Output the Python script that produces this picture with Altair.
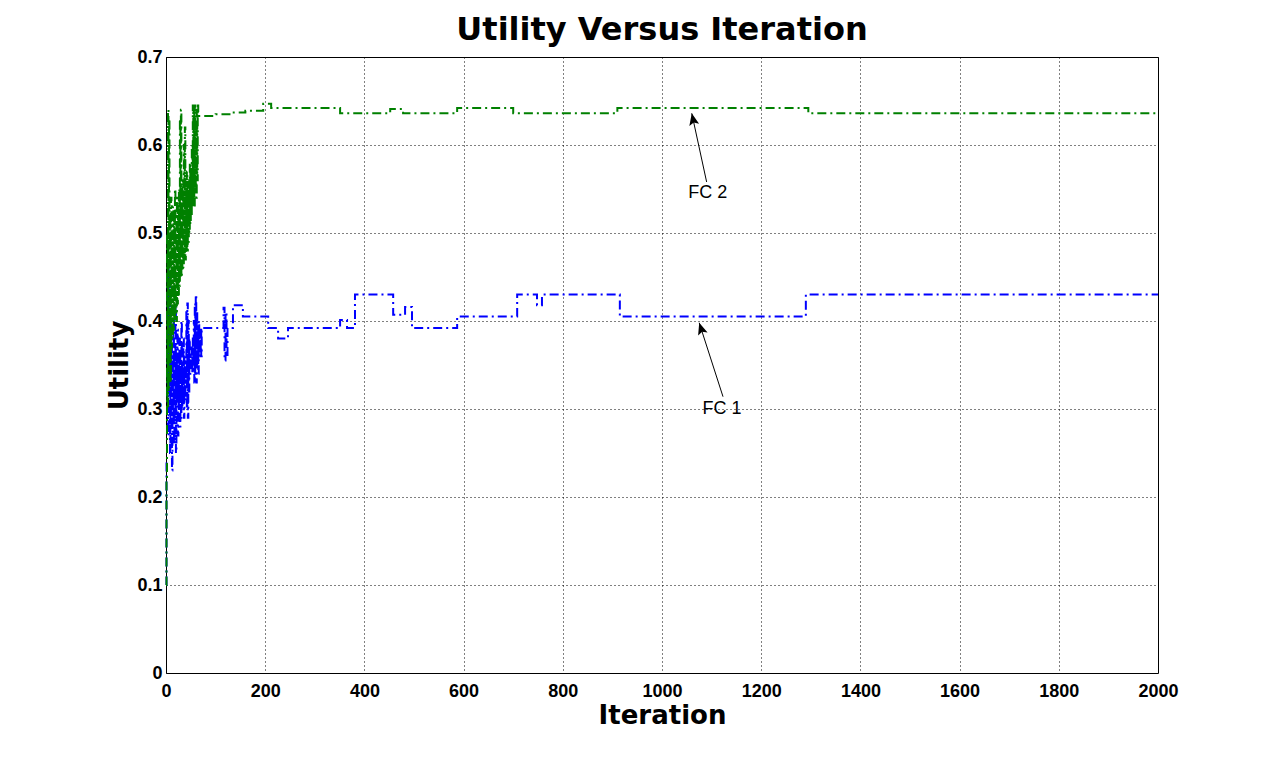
import altair as alt
import pandas as pd

# ---------------- data ----------------
# FC 1 (blue): per-iteration values for the noisy start (iterations 0..71)
fc1_early = [0.10, 0.24, 0.30, 0.45, 0.27, 0.46, 0.33, 0.44, 0.25, 0.40,
             0.28, 0.38, 0.23, 0.36, 0.29, 0.40, 0.26, 0.37, 0.30, 0.42,
             0.25, 0.36, 0.31, 0.39, 0.27, 0.35, 0.30, 0.38, 0.28, 0.36,
             0.29, 0.40, 0.30, 0.35, 0.31, 0.38, 0.29, 0.36, 0.31, 0.34,
             0.33, 0.41, 0.30, 0.42, 0.29, 0.40, 0.32, 0.38, 0.34, 0.36,
             0.35, 0.37, 0.36, 0.34, 0.38, 0.35, 0.40, 0.33, 0.42, 0.34,
             0.43, 0.33, 0.41, 0.35, 0.39, 0.34, 0.40, 0.36, 0.39, 0.37,
             0.39, 0.36]
# FC 1 later change points
fc1_step_it = [72, 114, 116, 118, 120, 122, 124, 135, 155, 206, 226, 246,
               351, 365, 381, 458, 482, 496, 587, 708, 748, 758, 915, 1290, 2000]
fc1_step_val = [0.392, 0.392, 0.415, 0.355, 0.410, 0.360, 0.392, 0.418, 0.405,
                0.392, 0.380, 0.392, 0.401, 0.392, 0.430, 0.407, 0.416, 0.392,
                0.405, 0.430, 0.418, 0.430, 0.405, 0.430, 0.430]

# FC 2 (green): per-iteration values for the noisy start (iterations 0..64)
fc2_early = [0.10, 0.22, 0.50, 0.30, 0.64, 0.32, 0.63, 0.34, 0.52, 0.33,
             0.54, 0.37, 0.50, 0.38, 0.53, 0.39, 0.52, 0.40, 0.55, 0.41,
             0.51, 0.40, 0.54, 0.42, 0.53, 0.43, 0.55, 0.44, 0.63, 0.45,
             0.64, 0.45, 0.55, 0.46, 0.56, 0.46, 0.60, 0.47, 0.62, 0.47,
             0.55, 0.48, 0.57, 0.48, 0.55, 0.49, 0.56, 0.50, 0.58, 0.51,
             0.57, 0.52, 0.60, 0.53, 0.645, 0.54, 0.64, 0.53, 0.645, 0.55,
             0.62, 0.54, 0.64, 0.56, 0.645]
fc2_step_it = [65, 100, 130, 160, 196, 212, 351, 452, 478, 587, 700, 910, 1295, 2000]
fc2_step_val = [0.633, 0.635, 0.637, 0.639, 0.647, 0.642, 0.636, 0.641, 0.636,
                0.642, 0.636, 0.642, 0.636, 0.636]

# annotations (data coordinates)
ann_label = ["FC 2", "FC 1"]
ann_tip_it = [1060, 1075]
ann_tip_val = [0.636, 0.398]
ann_tail_it = [1090, 1123]
ann_tail_val = [0.558, 0.314]
ann_text_it = [1092, 1121]
ann_text_val = [0.545, 0.300]
ann_angle = [348, 342]

x_ticks = list(range(0, 2001, 200))
y_ticks = [0, 0.1, 0.2, 0.3, 0.4, 0.5, 0.6, 0.7]

# ---------------- tables ----------------
fc1 = pd.DataFrame({
    "it": list(range(len(fc1_early))) + fc1_step_it,
    "u": fc1_early + fc1_step_val,
})
fc2 = pd.DataFrame({
    "it": list(range(len(fc2_early))) + fc2_step_it,
    "u": fc2_early + fc2_step_val,
})
ann = pd.DataFrame({
    "label": ann_label, "tip_it": ann_tip_it, "tip_u": ann_tip_val,
    "tail_it": ann_tail_it, "tail_u": ann_tail_val,
    "text_it": ann_text_it, "text_u": ann_text_val, "angle": ann_angle,
})

xscale = alt.Scale(domain=[0, 2000], nice=False)
yscale = alt.Scale(domain=[0, 0.7], nice=False)

label_font = "Liberation Sans"
title_font = "DejaVu Sans"

xaxis = alt.Axis(values=x_ticks, grid=True, gridDash=[1, 3], gridColor="#000000",
                 gridOpacity=1, ticks=False, domain=False, labelPadding=9,
                 labelFont=label_font, labelFontSize=18, labelFontWeight="bold",
                 labelColor="#000000", title="Iteration", titleFont=title_font,
                 titleFontSize=26, titleFontWeight="bold", titleColor="#000000",
                 titlePadding=2, labelFlush=False, format="d")
yaxis = alt.Axis(values=y_ticks, grid=True, gridDash=[1, 3], gridColor="#000000",
                 gridOpacity=1, ticks=False, domain=False, labelPadding=4,
                 labelFont=label_font, labelFontSize=18, labelFontWeight="bold",
                 labelColor="#000000", title="Utility", titleFont=title_font,
                 titleFontSize=26, titleFontWeight="bold", titleColor="#000000",
                 titlePadding=4, labelFlush=False,
                 labelExpr="datum.value == 0 ? '0' : format(datum.value, '.1f')")

dash = [9, 4, 2, 4]

line1 = alt.Chart(fc1).mark_line(color="#0000ff", strokeWidth=2, strokeDash=dash,
                                 interpolate="step-after").encode(
    x=alt.X("it:Q", scale=xscale, axis=xaxis),
    y=alt.Y("u:Q", scale=yscale, axis=yaxis),
)
line2 = alt.Chart(fc2).mark_line(color="#008000", strokeWidth=2, strokeDash=dash,
                                 interpolate="step-after").encode(
    x=alt.X("it:Q", scale=xscale),
    y=alt.Y("u:Q", scale=yscale),
)

shaft = alt.Chart(ann).mark_rule(color="#000000", strokeWidth=1).encode(
    x=alt.X("tail_it:Q", scale=xscale), y=alt.Y("tail_u:Q", scale=yscale),
    x2="tip_it:Q", y2="tip_u:Q",
)
head = alt.Chart(ann).mark_point(
    shape="M0,0 L-0.42,1 L0,0.8 L0.42,1 Z", filled=True, color="#000000",
    opacity=1, size=560,
).encode(
    x=alt.X("tip_it:Q", scale=xscale), y=alt.Y("tip_u:Q", scale=yscale),
    angle=alt.Angle("angle:Q", scale=None),
)
text = alt.Chart(ann).mark_text(font=label_font, fontSize=18, color="#000000",
                                align="center", baseline="middle").encode(
    x=alt.X("text_it:Q", scale=xscale), y=alt.Y("text_u:Q", scale=yscale),
    text="label:N",
)

chart = alt.layer(line1, line2, shaft, head, text).properties(
    width=992, height=616,
    autosize=alt.AutoSizeParams(type="none"),
    padding={"left": 158, "top": 49, "right": 100, "bottom": 60},
    title=alt.TitleParams("Utility Versus Iteration", font=title_font, fontSize=32,
                          fontWeight="bold", color="#000000", anchor="middle",
                          offset=1),
    background="#ffffff",
).configure_view(stroke="#000000", strokeWidth=1)

chart.save("out.html", embed_options={"renderer": "svg", "actions": False})
